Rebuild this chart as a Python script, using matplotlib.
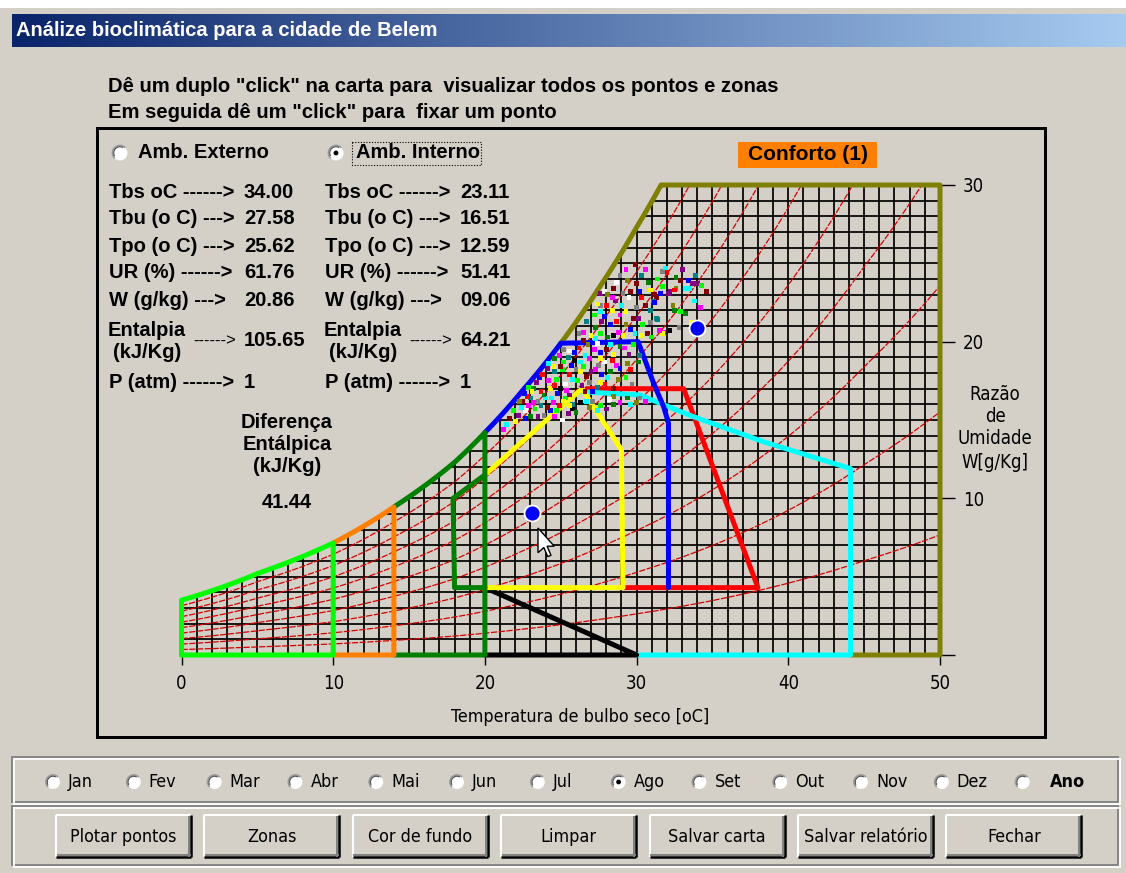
import numpy as np
import matplotlib
matplotlib.use("Agg")
import matplotlib.pyplot as plt
from matplotlib import font_manager
from matplotlib.patches import Rectangle, Circle, Arc, Polygon
from matplotlib.colors import LinearSegmentedColormap

# ---------------------------------------------------------------- data
# saturation humidity ratio of the chart (g/kg) against dry-bulb temperature (°C)
sat_temp_c = [0, 5, 10, 14, 18, 20, 22.5, 25, 27.5, 30, 32.5, 35, 40, 45, 50]
sat_w_gkg = [3.5, 5.2, 7.15, 9.45, 12.3, 14.2, 16.9, 19.9, 23.4, 27.3, 31.6, 36.6, 49.1, 65.9, 86.2]
rh_levels = [10, 20, 30, 40, 50, 60, 70, 80, 90]

x_ticks = [0, 10, 20, 30, 40, 50]
y_ticks = [0, 10, 20, 30]
y_tick_labels = ["", "10", "20", "30"]

# zone outlines (dry-bulb °C, humidity ratio g/kg); some start along the saturation curve
olive_sat = (25.0, None)
olive_t = [50.0, 50.0, 44.1]
olive_w = [30.0, 0.0, 0.0]
cyan_t = [26.4, 30.2, 33.5, 38.4, 44.1, 44.1, 30.0]
cyan_w = [16.8, 16.6, 15.3, 13.6, 11.9, 0.0, 0.0]
black_t = [20.0, 30.0, 20.0]
black_w = [4.3, 0.0, 0.0]
red_t = [26.7, 33.1, 38.0, 29.1]
red_w = [17.0, 17.0, 4.3, 4.3]
blue_sat = (20.0, 25.0)
blue_t = [30.1, 31.1, 31.8, 32.1, 32.1]
blue_w = [20.0, 17.4, 15.8, 14.8, 4.3]
yellow_t = [20.0, 26.4, 29.0, 29.1, 20.0]
yellow_w = [11.5, 17.0, 13.1, 4.3, 4.3]
dgreen_sat = (14.0, 20.0)
dgreen_t = [20.0, 14.0]
dgreen_w = [0.0, 0.0]
dgreen2_t = [20.0, 17.9, 18.0, 20.0]
dgreen2_w = [11.5, 10.0, 4.3, 4.3]
orange_sat = (10.0, 14.0)
orange_t = [14.0, 10.0]
orange_w = [0.0, 0.0]
lgreen_pre_t = [0.0]
lgreen_pre_w = [0.0]
lgreen_sat = (0.0, 10.0)
lgreen_t = [10.0, 0.0]
lgreen_w = [0.0, 0.0]

# hourly climate records (dry-bulb °C, humidity ratio g/kg, colour code)
rec_t = [29.9, 30.6, 31.7, 31.9, 32.6, 32.9, 33.4, 33.7, 28.7, 29.4, 30.0, 30.8, 31.7, 32.6, 33.5,
         27.6, 27.9, 28.5, 29.1, 29.6, 30.3, 31.3, 31.6, 32.2, 31.1, 32.4, 28.1, 27.6, 28.6, 29.5,
         30.0, 30.6, 32.9, 33.2, 27.2, 27.6, 27.9, 28.4, 28.9, 29.3, 29.8, 30.4, 30.9, 31.3, 31.8,
         32.2, 26.7, 27.3, 27.7, 28.3, 28.7, 29.3, 29.9, 30.3, 30.7, 26.2, 26.5, 27.0, 27.6, 28.1,
         28.5, 29.1, 31.7, 25.2, 25.6, 26.2, 26.6, 27.2, 27.6, 28.0, 28.5, 28.9, 29.5, 24.6, 25.2,
         25.7, 26.3, 26.9, 27.5, 27.9, 28.4, 28.7, 29.4, 24.1, 24.6, 25.1, 25.6, 26.3, 26.7, 27.3,
         27.7, 28.3, 28.8, 29.3, 23.6, 24.2, 24.7, 25.3, 25.8, 26.4, 26.9, 27.4, 27.9, 28.5, 29.7,
         23.2, 23.7, 24.3, 24.8, 25.4, 23.0, 23.5, 24.0, 24.5, 22.5, 22.7, 23.3, 24.3, 25.3, 25.8,
         26.7, 28.5, 29.4, 30.2, 22.8, 23.2, 23.0, 24.1, 24.4, 24.7, 25.2, 25.5, 25.8, 26.3, 27.1,
         27.6, 28.5, 28.9, 29.6, 30.0, 30.6, 22.3, 23.5, 34.0, 33.2, 32.1, 32.5, 31.2, 31.2, 30.9,
         32.5, 31.4, 31.5,
         22.9, 23.4, 23.8, 24.2, 24.5, 24.9, 25.0, 25.5, 25.9, 26.0,
         22.6, 23.1, 23.9, 24.6, 25.0, 25.6, 26.1, 26.6, 27.1, 27.6,
         22.4, 22.9, 23.7, 24.9, 25.6, 26.0, 26.9, 27.4, 28.0, 28.2,
         21.9, 22.2, 22.7, 23.9, 24.6, 25.1, 21.6, 22.0, 21.4, 21.2,
         25.9, 26.5, 27.0, 27.6, 28.1, 28.9, 29.6, 30.1, 26.0, 26.8,
         27.4, 28.3, 29.2, 29.8, 30.2, 26.5, 27.3, 28.8, 29.6, 30.1,
         27.4, 28.0, 28.4, 29.0, 30.2, 30.9, 31.4, 30.3, 29.3, 28.9,
         32.0, 33.0, 33.9, 34.3, 34.6, 33.8, 33.6, 34.2, 32.8, 31.0]
rec_w = [24.9, 24.6, 24.5, 24.7, 24.1, 23.9, 23.9, 23.7, 23.8, 23.9, 23.7, 23.8, 23.5, 23.4, 23.4,
         23.1, 23.2, 23.4, 23.1, 23.2, 22.8, 22.8, 23.1, 23.2, 22.6, 22.3, 23.0, 22.3, 22.6, 22.8,
         22.2, 22.3, 21.9, 21.8, 21.7, 21.9, 21.6, 22.0, 21.7, 21.9, 21.5, 21.1, 21.2, 21.5, 20.6,
         20.7, 21.3, 20.9, 21.3, 21.1, 21.3, 21.1, 20.5, 20.4, 20.5, 20.5, 20.6, 20.4, 20.5, 20.3,
         20.4, 20.4, 20.5, 19.5, 19.4, 19.6, 19.1, 19.5, 19.3, 19.5, 19.2, 19.7, 19.2, 18.9, 18.7,
         18.5, 18.7, 18.9, 18.5, 18.7, 18.8, 18.5, 18.6, 18.3, 18.1, 18.2, 17.9, 18.1, 17.8, 18.2,
         17.9, 18.1, 17.6, 17.7, 17.7, 17.5, 17.6, 17.3, 17.6, 17.2, 17.4, 17.1, 17.3, 17.0, 17.3,
         17.0, 16.8, 17.0, 16.7, 16.9, 16.4, 16.2, 16.4, 16.1, 16.2, 15.6, 15.7, 15.6, 16.4, 15.7,
         16.2, 16.5, 16.4, 16.4, 16.5, 16.1, 15.2, 15.8, 16.4, 15.6, 16.2, 15.4, 16.0, 16.1, 16.2,
         15.9, 16.0, 16.1, 16.0, 16.1, 16.2, 16.2, 15.2, 23.7, 23.4, 23.1, 23.3, 23.0, 22.5, 22.0,
         22.0, 21.4, 20.7,
         17.1, 17.4, 17.9, 18.6, 18.4, 19.1, 18.4, 19.0, 19.3, 18.2,
         16.7, 16.8, 16.6, 17.2, 17.0, 16.6, 17.5, 16.8, 16.8, 17.4,
         15.8, 15.9, 15.9, 15.9, 15.9, 15.5, 15.8, 15.6, 15.7, 16.3,
         15.6, 15.3, 15.1, 15.3, 15.2, 15.0, 15.1, 14.9, 14.7, 14.4,
         18.8, 18.4, 18.1, 18.9, 17.7, 18.3, 18.2, 18.7, 19.9, 19.8,
         19.9, 19.8, 19.6, 19.8, 19.1, 20.1, 20.2, 20.6, 20.8, 21.5,
         22.4, 22.3, 22.8, 22.3, 23.2, 23.3, 24.0, 24.2, 24.6, 24.2,
         24.4, 24.6, 24.2, 23.6, 23.2, 22.6, 21.2, 22.2, 20.9, 20.3]
rec_c = ["dr", "m", "gy", "c", "dg", "dr", "b", "pu", "w", "ol", "dr", "dg", "g", "ol", "c",
         "pu", "w", "dr", "gy", "dr", "r", "dr", "b", "pu", "tl", "ol", "ol", "gy", "pu", "w",
         "gy", "dr", "g", "dg", "g", "c", "b", "y", "m", "y", "dr", "g", "gy", "tl", "m",
         "k", "tl", "dg", "pu", "b", "r", "ol", "c", "y", "dr", "gy", "m", "y", "g", "dg",
         "k", "y", "y", "gy", "w", "r", "c", "m", "b", "dr", "y", "dg", "pu", "dg", "g",
         "b", "c", "m", "gy", "w", "r", "m", "ol", "pu", "tl", "g", "r", "y", "dr", "m",
         "b", "dg", "ol", "g", "b", "m", "g", "w", "c", "pu", "gy", "tl", "r", "dr", "gy",
         "dg", "r", "y", "b", "m", "tl", "gy", "c", "m", "dr", "w", "g", "b", "g", "k",
         "c", "ol", "dg", "gy", "r", "m", "dg", "dr", "c", "g", "y", "pu", "tl", "k", "gy",
         "g", "dg", "m", "c", "ol", "m", "ol", "pu", "pu", "c", "pu", "r", "dr", "b", "tl",
         "dg", "tl", "m",
         "g", "pu", "r", "c", "y", "m", "dr", "tl", "b", "gy",
         "b", "y", "dg", "r", "k", "pu", "g", "dr", "b", "y",
         "c", "m", "tl", "r", "y", "dg", "ol", "c", "pu", "w",
         "g", "pu", "b", "gy", "m", "w", "dr", "y", "c", "m",
         "k", "g", "pu", "y", "c", "b", "r", "dg", "b", "ol",
         "w", "c", "m", "g", "tl", "dr", "c", "m", "b", "pu",
         "y", "r", "m", "c", "b", "y", "g", "tl", "m", "gy",
         "r", "pu", "tl", "g", "dr", "c", "y", "m", "gy", "g"]
palette = {"r": "#FF0000", "g": "#00FF00", "b": "#0000FF", "y": "#FFFF00", "m": "#FF00FF",
           "c": "#00FFFF", "w": "#FFFFFF", "gy": "#808080", "dr": "#800000", "dg": "#008000",
           "ol": "#808000", "pu": "#800080", "tl": "#008080", "k": "#000000"}

ext_point = (34.00, 20.86)
int_point = (23.11, 9.06)

row_labels = ["Tbs oC ------>", "Tbu (o C) --->", "Tpo (o C) --->", "UR (%) ------>", "W (g/kg) --->"]
ext_values = ["34.00", "27.58", "25.62", "61.76", "20.86"]
int_values = ["23.11", "16.51", "12.59", "51.41", "09.06"]
ext_enthalpy = "105.65"
int_enthalpy = "64.21"
pressure = "1"
enthalpy_diff = "41.44"

months = ["Jan", "Fev", "Mar", "Abr", "Mai", "Jun", "Jul", "Ago", "Set", "Out", "Nov", "Dez", "Ano"]
selected_month = "Ago"
buttons = ["Plotar pontos", "Zonas", "Cor de fundo", "Limpar", "Salvar carta", "Salvar relatório", "Fechar"]


# ---------------------------------------------------------------- fonts
def pick(*names):
    for n in names:
        try:
            font_manager.findfont(font_manager.FontProperties(family=n), fallback_to_default=False)
            return n, True
        except Exception:
            continue
    return "DejaVu Sans", False


BOLD, _ = pick("Liberation Sans", "Arial")
NARROW, has_narrow = pick("Liberation Sans Narrow")
STRETCH = "normal"
if has_narrow:
    NSCALE = 1.0
else:
    cond = font_manager.findfont(font_manager.FontProperties(family="DejaVu Sans", stretch="condensed"))
    if "Condensed" in cond:
        STRETCH = "condensed"
        NSCALE = 0.86
    else:
        NSCALE = 0.75
FACE = "#D4D0C8"
PX = 0.72  # points per pixel at 100 dpi

# ---------------------------------------------------------------- psychrometrics
P_ATM = 101.325


def w_sat(t):
    return np.exp(np.interp(t, sat_temp_c, np.log(sat_w_gkg)))


def w_rh(t, rh):
    ws = w_sat(t)
    pv = rh / 100.0 * ws * P_ATM / (622.0 + ws)
    return 622.0 * pv / (P_ATM - pv)


t_dense = np.linspace(0, 50, 1001)
w_dense = w_sat(t_dense)


def t_sat(w):
    return float(np.interp(w, w_dense, t_dense))


# ---------------------------------------------------------------- window
fig = plt.figure(figsize=(11.26, 8.73), dpi=100, facecolor=FACE)
ui = fig.add_axes([0, 0, 1, 1])
ui.set_zorder(0)
ui.axis("off")

ui.add_patch(Rectangle((0, 0), 1126, 8, facecolor="white", edgecolor="none"))
grad = LinearSegmentedColormap.from_list("titlebar", ["#0A246A", "#A6CAF0"])
ui.imshow(np.linspace(0, 1, 256)[None, :], cmap=grad, extent=(12, 1126, 47, 14), aspect="auto")
ui.set_xlim(0, 1126)
ui.set_ylim(873, 0)
ui.text(16, 31, "Análize bioclimática para a cidade de Belem", color="white", fontsize=14.5,
        fontweight="bold", family=BOLD, va="center")

ui.text(108, 86, 'Dê um duplo "click" na carta para  visualizar todos os pontos e zonas',
        fontsize=14.6, fontweight="bold", family=BOLD, va="center")
ui.text(108, 113, 'Em seguida dê um "click" para  fixar um ponto',
        fontsize=14.6, fontweight="bold", family=BOLD, va="center")

ui.add_patch(Rectangle((97, 128), 948, 609, fill=False, edgecolor="black", lw=3 * PX))


def radio(cx, cy, on=False, r=7.0):
    ui.add_patch(Circle((cx, cy), r, facecolor="white", edgecolor="none"))
    ui.add_patch(Arc((cx, cy), 2 * r, 2 * r, theta1=135, theta2=315, color="#9A9A9A", lw=1.3))
    ui.add_patch(Arc((cx, cy), 2 * r - 2.5, 2 * r - 2.5, theta1=150, theta2=300, color="#505050", lw=0.8))
    if on:
        ui.add_patch(Circle((cx, cy), 2.4, facecolor="black", edgecolor="none"))


def btext(x, y, s, size=14.5, **kw):
    ui.text(x, y, s, fontsize=size, fontweight="bold", family=BOLD, va="center", **kw)


def ntext(x, y, s, size, **kw):
    ui.text(x, y, s, fontsize=size * NSCALE, family=NARROW, fontstretch=STRETCH, va="center", **kw)


radio(120, 153, r=7.5)
btext(138, 153, "Amb. Externo")
radio(336, 153, on=True, r=7.5)
btext(356, 153, "Amb. Interno")
ui.add_patch(Rectangle((352, 142), 129, 23, fill=False, edgecolor="black", lw=0.8, linestyle=(0, (1, 1.5))))

ui.add_patch(Rectangle((738, 142), 139, 26, facecolor="#FF8000", edgecolor="none"))
btext(807.5, 155, "Conforto (1)", size=15, ha="center")

row_y = [193, 219, 246, 273, 300]
for y, lab, ve, vi in zip(row_y, row_labels, ext_values, int_values):
    btext(109, y, lab)
    btext(244, y, ve)
    btext(325, y, lab)
    btext(460, y, vi)
for xl, xv, val in [(108, 244, ext_enthalpy), (324, 460, int_enthalpy)]:
    btext(xl, 330, "Entalpia")
    btext(xl + 5, 352, "(kJ/Kg)")
    ui.text(xl + 85, 341, "------>", fontsize=12, family=BOLD, va="center")
    btext(xv, 341, val)
    btext(xl + 1, 382, "P (atm) ------>")
    btext(xv, 382, pressure)

for y, s in [(423, "Diferença"), (445, "Entálpica"), (467, "(kJ/Kg)"), (503, enthalpy_diff)]:
    btext(287, y, s, ha="center")

for y, s in [(395, "Razão"), (416, "de"), (438, "Umidade"), (463, "W[g/Kg]")]:
    ntext(995, y, s, 15.5, ha="center")
ntext(580, 717, "Temperatura de bulbo seco [oC]", 15.0, ha="center")


def etched(x, y, w, h):
    ui.add_patch(Rectangle((x, y), w, h, fill=False, edgecolor="#808080", lw=1.3))
    ui.add_patch(Rectangle((x + 1.5, y + 1.5), w, h, fill=False, edgecolor="white", lw=1.3))


etched(12, 757, 1106, 45)
etched(12, 806, 1106, 59)

for i, m in enumerate(months):
    cx = 53 + i * 80.8
    radio(cx, 782, on=(m == selected_month))
    if m == "Ano":
        ntext(cx + 27, 782, m, 15.0, fontweight="bold")
    else:
        ntext(cx + 15, 782, m, 15.0)

for i, lab in enumerate(buttons):
    x, y, w, h = 56 + i * 148.4, 815, 135, 42
    ui.add_patch(Rectangle((x, y), w, h, facecolor=FACE, edgecolor="none"))
    ui.plot([x, x + w], [y, y], color="white", lw=1.5, solid_capstyle="butt")
    ui.plot([x, x], [y, y + h], color="white", lw=1.5, solid_capstyle="butt")
    ui.plot([x, x + w], [y + h, y + h], color="black", lw=1.8, solid_capstyle="butt")
    ui.plot([x + w, x + w], [y, y + h], color="black", lw=1.8, solid_capstyle="butt")
    ui.plot([x + 1.5, x + w - 1.5], [y + h - 2, y + h - 2], color="#808080", lw=1.4)
    ui.plot([x + w - 2, x + w - 2], [y + 1.5, y + h - 1.5], color="#808080", lw=1.4)
    ntext(x + w / 2, y + h / 2 + 1, lab, 15.0, ha="center")

# ---------------------------------------------------------------- psychrometric chart
X0, X1, Y0, Y1 = 181.5, 940.0, 655.0, 185.0
ax = fig.add_axes([X0 / 1126, 1 - Y0 / 873, (X1 - X0) / 1126, (Y0 - Y1) / 873])
ax.set_zorder(2)
ax.patch.set_alpha(0)
ax.set_xlim(0, 50)
ax.set_ylim(0, 30)
for s in ax.spines.values():
    s.set_visible(False)
ax.set_xticks(x_ticks)
ax.set_xticklabels([str(v) for v in x_ticks])
ax.yaxis.tick_right()
ax.set_yticks(y_ticks)
ax.set_yticklabels(y_tick_labels)
ax.tick_params(axis="x", direction="out", length=10 * PX, width=1.0, pad=9 * PX,
               labelsize=15.5 * NSCALE)
ax.tick_params(axis="y", direction="out", length=15 * PX, width=1.0, pad=8 * PX,
               labelsize=15.5 * NSCALE, left=False, right=True)
for lbl in ax.get_xticklabels() + ax.get_yticklabels():
    lbl.set_fontfamily(NARROW)
    lbl.set_fontstretch(STRETCH)

# 1 °C x 1 g/kg grid below the saturation curve
for t in range(0, 51):
    ax.plot([t, t], [0, min(float(w_sat(t)), 30.0)], color="black", lw=1.25, zorder=1,
            solid_capstyle="butt")
for w in range(1, 31):
    ax.plot([t_sat(w), 50], [w, w], color="black", lw=1.25, zorder=1, solid_capstyle="butt")

# relative humidity curves
for rh in rh_levels:
    ax.plot(t_dense, w_rh(t_dense, rh), color="#D40000", lw=0.9, zorder=1.5,
            linestyle=(0, (5, 1.2)))


def sat_run(t_a, t_b):
    if t_b is None:
        t_b = t_sat(30.0)
    tt = np.linspace(t_a, t_b, 120)
    return list(tt), list(w_sat(tt))


def zone(color, pre_t=(), pre_w=(), sat=None, post_t=(), post_w=(), z=3):
    tt, ww = list(pre_t), list(pre_w)
    if sat is not None:
        st, sw = sat_run(*sat)
        tt += st
        ww += sw
    tt += list(post_t)
    ww += list(post_w)
    ax.plot(tt, ww, color=color, lw=5 * PX, zorder=z, clip_on=False,
            solid_joinstyle="round", solid_capstyle="round")


zone("#808000", sat=olive_sat, post_t=olive_t, post_w=olive_w)
zone("#FF0000", post_t=red_t, post_w=red_w)
zone("#00FFFF", post_t=cyan_t, post_w=cyan_w)
zone("#000000", post_t=black_t, post_w=black_w)
zone("#0000FF", sat=blue_sat, post_t=blue_t, post_w=blue_w)
zone("#FFFF00", post_t=yellow_t, post_w=yellow_w)
zone("#008000", sat=dgreen_sat, post_t=dgreen_t, post_w=dgreen_w)
zone("#008000", post_t=dgreen2_t, post_w=dgreen2_w)
zone("#FF8000", sat=orange_sat, post_t=orange_t, post_w=orange_w)
zone("#00FF00", pre_t=lgreen_pre_t, pre_w=lgreen_pre_w, sat=lgreen_sat, post_t=lgreen_t, post_w=lgreen_w)

ax.scatter(rec_t, rec_w, c=[palette[k] for k in rec_c], marker="s", s=12, linewidths=0, zorder=4)

for pt in (ext_point, int_point):
    ax.plot(pt[0], pt[1], marker="o", ms=11.5, color="#0000FF", mec="white", mew=1.3, zorder=5)

# mouse pointer
arrow = np.array([[0, 0], [0, 19], [4.5, 15], [7.5, 22], [10, 21], [7, 14], [12.5, 14]]) * 1.3
ax.add_patch(Polygon(arrow + [538, 528], closed=True, facecolor="white", edgecolor="black",
                     lw=1.0, transform=ui.transData, clip_on=False, zorder=6))

fig.savefig("out.png", dpi=100, facecolor=FACE)
